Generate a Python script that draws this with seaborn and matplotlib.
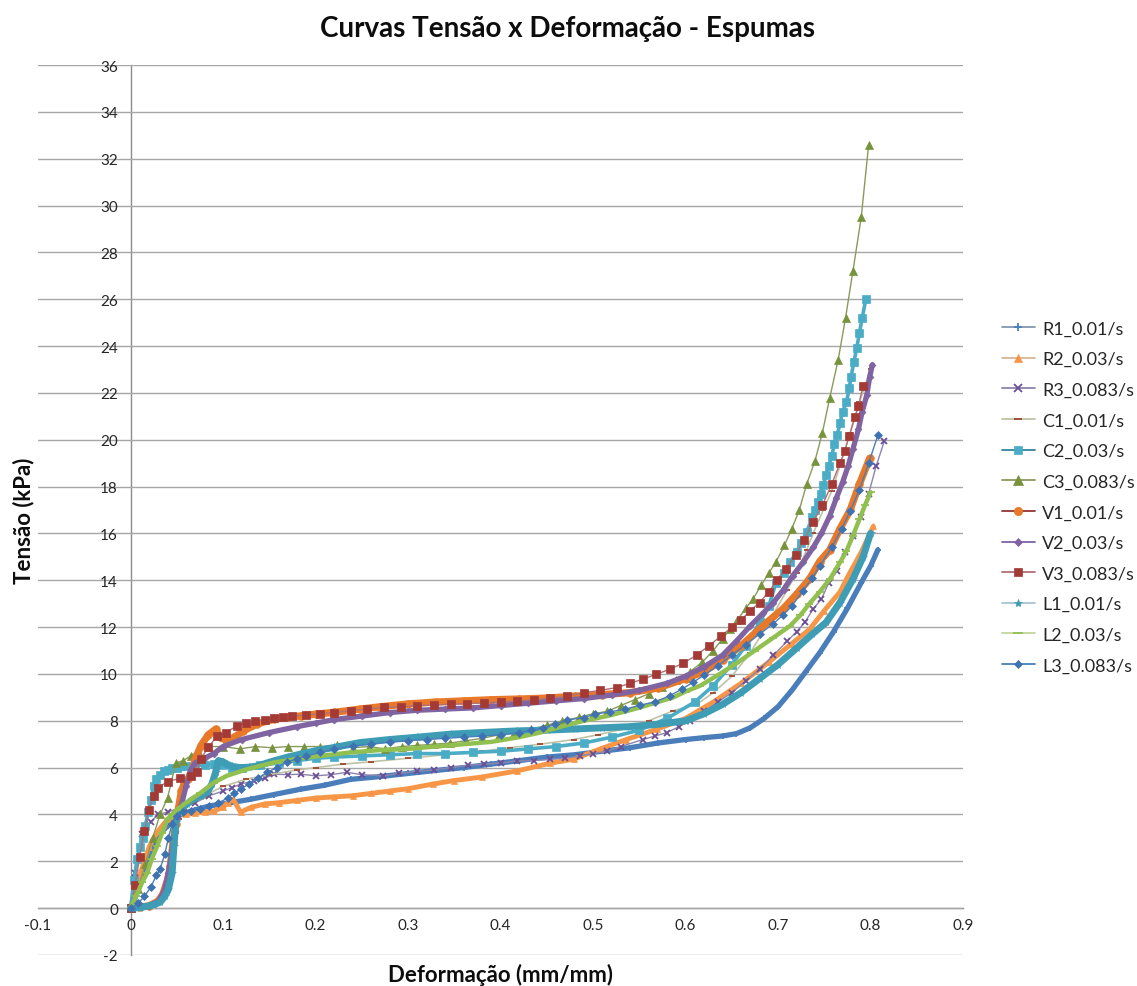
import numpy as np
import pandas as pd
import matplotlib
matplotlib.use("Agg")
import matplotlib.pyplot as plt
from matplotlib.lines import Line2D
import seaborn as sns

# ---- strain (mm/mm) and stress (kPa) for each foam test ----
r1_x = [0, 0.0036, 0.009, 0.0126, 0.018, 0.025, 0.032, 0.04, 0.047, 0.054, 0.07, 0.086, 0.1, 0.115, 0.13, 0.155,
        0.184, 0.21, 0.238, 0.27, 0.3, 0.33, 0.36, 0.39, 0.418, 0.45, 0.48, 0.51, 0.54, 0.57, 0.6, 0.62, 0.64,
        0.655, 0.67, 0.685, 0.7, 0.715, 0.73, 0.745, 0.76, 0.775, 0.79, 0.8, 0.808]
r1_y = [0, 0.24, 0.95, 1.5, 2.1, 2.66, 3.2, 3.5, 3.9, 4.0, 4.2, 4.37, 4.45, 4.55, 4.65, 4.85,
        5.08, 5.25, 5.5, 5.62, 5.75, 5.88, 6.0, 6.15, 6.29, 6.45, 6.55, 6.7, 6.85, 7.05, 7.2, 7.28, 7.35,
        7.45, 7.7, 8.1, 8.6, 9.3, 10.1, 10.9, 11.8, 12.8, 13.9, 14.6, 15.3]

r2_x = [0, 0.005, 0.01, 0.015, 0.02, 0.025, 0.03, 0.035, 0.04, 0.05, 0.06, 0.07, 0.08, 0.09, 0.1, 0.105,
        0.111, 0.119, 0.13, 0.145, 0.16, 0.18, 0.2, 0.22, 0.24, 0.26, 0.28, 0.3, 0.327, 0.35, 0.38, 0.418,
        0.454, 0.479, 0.508, 0.536, 0.569, 0.6, 0.63, 0.66, 0.69, 0.715, 0.734, 0.75, 0.767, 0.776, 0.79, 0.803]
r2_y = [0, 0.7, 1.4, 2.0, 2.6, 3.0, 3.3, 3.55, 3.8, 3.95, 4.0, 4.05, 4.1, 4.15, 4.3, 4.5,
        4.65, 4.1, 4.3, 4.45, 4.5, 4.6, 4.7, 4.75, 4.8, 4.9, 5.0, 5.1, 5.3, 5.45, 5.6, 5.86,
        6.19, 6.36, 6.8, 7.2, 7.64, 8.1, 8.8, 9.6, 10.5, 11.3, 11.9, 12.7, 13.5, 14.2, 15.2, 16.3]

r3_x = [0, 0.005, 0.0126, 0.022, 0.03, 0.04, 0.055, 0.07, 0.085, 0.1, 0.11, 0.119, 0.133, 0.145, 0.155, 0.17,
        0.184, 0.2, 0.217, 0.234, 0.25, 0.273, 0.29, 0.31, 0.328, 0.346, 0.365, 0.382, 0.4, 0.418, 0.436,
        0.454, 0.47, 0.486, 0.5, 0.515, 0.53, 0.554, 0.567, 0.58, 0.593, 0.605, 0.62, 0.635, 0.65, 0.665,
        0.68, 0.695, 0.71, 0.72, 0.729, 0.738, 0.747, 0.755, 0.764, 0.772, 0.781, 0.79, 0.798, 0.806, 0.815]
r3_y = [0, 1.5, 3.16, 3.7, 4.0, 4.1, 4.3, 4.5, 4.8, 5.0, 5.15, 5.3, 5.43, 5.55, 5.72, 5.7,
        5.72, 5.65, 5.7, 5.8, 5.7, 5.65, 5.75, 5.85, 5.9, 6.0, 6.1, 6.15, 6.2, 6.29, 6.3,
        6.35, 6.4, 6.5, 6.6, 6.7, 6.9, 7.2, 7.35, 7.5, 7.75, 8.0, 8.4, 8.8, 9.2, 9.7,
        10.2, 10.8, 11.4, 11.8, 12.2, 12.77, 13.2, 13.9, 14.4, 15.2, 15.9, 16.7, 17.7, 18.86, 19.95]

c1_x = [0, 0.01, 0.02, 0.03, 0.035, 0.04, 0.043, 0.046, 0.049, 0.052, 0.058, 0.066, 0.08, 0.1, 0.125, 0.15,
        0.18, 0.2, 0.23, 0.26, 0.3, 0.34, 0.38, 0.41, 0.443, 0.479, 0.505, 0.532, 0.56, 0.587, 0.612, 0.63,
        0.65, 0.67, 0.69, 0.71, 0.72, 0.731, 0.738, 0.749, 0.758, 0.768, 0.778, 0.788, 0.8]
c1_y = [0, 0.03, 0.1, 0.3, 0.6, 1.0, 1.6, 2.4, 3.2, 3.8, 4.2, 4.5, 4.8, 5.2, 5.5, 5.7,
        5.9, 6.0, 6.15, 6.25, 6.4, 6.55, 6.7, 6.85, 7.0, 7.2, 7.4, 7.64, 8.0, 8.43, 8.7, 9.2,
        9.9, 10.9, 12.2, 13.6, 14.3, 15.3, 16.0, 17.0, 17.8, 19.0, 20.3, 21.6, 23.0]

c2_x = [0, 0.004, 0.007, 0.01, 0.013, 0.016, 0.019, 0.022, 0.025, 0.028, 0.032, 0.036, 0.04, 0.045, 0.05,
        0.055, 0.06, 0.07, 0.08, 0.09, 0.1, 0.11, 0.12, 0.14, 0.16, 0.18, 0.2, 0.22, 0.25, 0.28, 0.31, 0.34,
        0.37, 0.4, 0.43, 0.46, 0.49, 0.52, 0.55, 0.58, 0.61, 0.63, 0.65, 0.665, 0.68, 0.69, 0.698, 0.706,
        0.713, 0.72, 0.725, 0.731, 0.737, 0.74, 0.743, 0.746, 0.749, 0.752, 0.755, 0.758, 0.761, 0.764,
        0.767, 0.77, 0.774, 0.777, 0.779, 0.782, 0.785, 0.788, 0.791, 0.795]
c2_y = [0, 1.2, 2.1, 2.6, 3.0, 3.5, 4.1, 4.6, 5.2, 5.5, 5.7, 5.85, 5.9, 6.0, 6.0,
        6.05, 6.05, 6.1, 6.1, 6.15, 6.1, 6.0, 6.0, 6.1, 6.2, 6.3, 6.4, 6.45, 6.5, 6.55, 6.6, 6.6,
        6.65, 6.7, 6.8, 6.9, 7.05, 7.3, 7.6, 8.1, 8.8, 9.5, 10.4, 11.2, 12.2, 12.9, 13.9, 14.3,
        14.76, 15.2, 15.6, 16.05, 16.7, 17.0, 17.35, 17.7, 18.06, 18.5, 18.9, 19.3, 19.8, 20.2,
        20.7, 21.2, 21.6, 22.2, 22.7, 23.3, 23.9, 24.55, 25.2, 26.0]

c3_x = [0, 0.008, 0.016, 0.024, 0.032, 0.04, 0.049, 0.057, 0.065, 0.073, 0.084, 0.1, 0.118, 0.135, 0.153,
        0.17, 0.188, 0.205, 0.223, 0.24, 0.258, 0.275, 0.293, 0.31, 0.328, 0.345, 0.363, 0.38, 0.398, 0.415,
        0.433, 0.45, 0.467, 0.485, 0.5, 0.515, 0.53, 0.545, 0.56, 0.575, 0.59, 0.605, 0.618, 0.63, 0.64,
        0.648, 0.656, 0.665, 0.673, 0.682, 0.69, 0.698, 0.707, 0.715, 0.723, 0.731, 0.74, 0.748, 0.756,
        0.765, 0.773, 0.781, 0.79, 0.798]
c3_y = [0, 0.8, 1.9, 3.0, 4.0, 4.7, 6.2, 6.3, 6.5, 6.7, 6.9, 6.9, 6.8, 6.9, 6.85,
        6.9, 6.9, 6.9, 6.95, 6.85, 6.9, 6.8, 6.9, 6.95, 7.0, 7.05, 7.15, 7.25, 7.4, 7.5,
        7.65, 7.8, 8.0, 8.15, 8.3, 8.4, 8.65, 8.9, 9.15, 9.45, 9.75, 10.1, 10.5, 11.0, 11.5,
        11.9, 12.3, 12.8, 13.2, 13.8, 14.3, 14.8, 15.5, 16.2, 17.0, 18.1, 19.1, 20.3, 21.8,
        23.4, 25.2, 27.2, 29.5, 32.6]

v1_x = [0, 0.01, 0.02, 0.03, 0.035, 0.04, 0.043, 0.046, 0.049, 0.052, 0.055, 0.058, 0.062, 0.067, 0.07,
        0.076, 0.084, 0.092, 0.097, 0.104, 0.112, 0.122, 0.137, 0.155, 0.17, 0.184, 0.2, 0.22, 0.248, 0.27,
        0.3, 0.33, 0.36, 0.39, 0.42, 0.45, 0.48, 0.51, 0.54, 0.57, 0.6, 0.62, 0.64, 0.66, 0.688, 0.706,
        0.72, 0.734, 0.745, 0.756, 0.767, 0.778, 0.788, 0.799]
v1_y = [0, 0.05, 0.1, 0.3, 0.6, 1.2, 1.8, 2.8, 3.6, 4.3, 5.0, 5.3, 5.5, 5.93, 6.36,
        6.93, 7.4, 7.64, 7.3, 7.14, 7.29, 7.57, 7.86, 8.07, 8.15, 8.21, 8.28, 8.36, 8.5, 8.6,
        8.72, 8.8, 8.85, 8.9, 8.93, 8.97, 9.05, 9.12, 9.2, 9.4, 9.8, 10.1, 10.6, 11.2, 12.2, 12.8,
        13.4, 14.05, 14.8, 15.3, 16.2, 17.0, 18.1, 19.2]

v2_x = [0, 0.02, 0.03, 0.036, 0.041, 0.045, 0.048, 0.05, 0.055, 0.06, 0.065, 0.07, 0.08, 0.09, 0.1, 0.12,
        0.15, 0.18, 0.2, 0.22, 0.25, 0.28, 0.31, 0.34, 0.37, 0.4, 0.43, 0.46, 0.49, 0.52, 0.55, 0.58, 0.6,
        0.62, 0.64, 0.655, 0.67, 0.684, 0.695, 0.706, 0.716, 0.727, 0.738, 0.747, 0.756, 0.763, 0.77,
        0.776, 0.781, 0.787, 0.791, 0.796, 0.799, 0.802]
v2_y = [0, 0.1, 0.3, 0.7, 1.5, 2.5, 3.3, 3.8, 4.4, 5.2, 5.9, 6.2, 6.4, 6.6, 6.9, 7.2,
        7.5, 7.75, 7.9, 8.05, 8.2, 8.35, 8.45, 8.5, 8.55, 8.65, 8.75, 8.85, 8.95, 9.1, 9.3, 9.6, 9.9,
        10.3, 10.8, 11.4, 12.05, 12.6, 13.05, 13.6, 14.2, 14.76, 15.4, 16.0, 16.75, 17.5, 18.2,
        18.9, 19.6, 20.45, 21.2, 21.9, 22.66, 23.2]

v3_x = [0, 0.005, 0.01, 0.015, 0.02, 0.025, 0.03, 0.04, 0.054, 0.065, 0.072, 0.076, 0.084, 0.094, 0.103,
        0.115, 0.125, 0.135, 0.145, 0.155, 0.165, 0.175, 0.19, 0.205, 0.22, 0.238, 0.256, 0.274, 0.292,
        0.31, 0.328, 0.346, 0.364, 0.382, 0.4, 0.418, 0.436, 0.454, 0.472, 0.49, 0.508, 0.526, 0.54, 0.554,
        0.568, 0.583, 0.597, 0.612, 0.625, 0.638, 0.65, 0.66, 0.67, 0.68, 0.69, 0.699, 0.709, 0.719,
        0.728, 0.738, 0.748, 0.758, 0.767, 0.772, 0.777, 0.783, 0.787, 0.792]
v3_y = [0, 1.0, 2.2, 3.3, 4.2, 4.8, 5.15, 5.4, 5.55, 5.65, 5.8, 6.36, 6.87, 7.36, 7.5,
        7.78, 7.9, 8.0, 8.05, 8.1, 8.15, 8.2, 8.25, 8.3, 8.35, 8.43, 8.5, 8.57, 8.6,
        8.65, 8.68, 8.7, 8.73, 8.77, 8.8, 8.85, 8.9, 8.97, 9.05, 9.2, 9.3, 9.42, 9.6, 9.78,
        9.98, 10.2, 10.45, 10.8, 11.2, 11.6, 12.0, 12.3, 12.7, 13.05, 13.5, 14.0, 14.5, 15.1,
        15.7, 16.5, 17.2, 18.1, 19.0, 19.5, 20.17, 20.95, 21.45, 22.3]

l1_x = [0, 0.01, 0.02, 0.025, 0.032, 0.037, 0.041, 0.045, 0.047, 0.049, 0.051, 0.054, 0.061, 0.068, 0.076,
        0.083, 0.088, 0.092, 0.095, 0.1, 0.104, 0.11, 0.119, 0.128, 0.137, 0.155, 0.17, 0.184, 0.2, 0.22,
        0.248, 0.28, 0.31, 0.346, 0.38, 0.418, 0.45, 0.48, 0.51, 0.54, 0.57, 0.6, 0.62, 0.64, 0.66, 0.68,
        0.7, 0.72, 0.737, 0.752, 0.767, 0.781, 0.792, 0.8]
l1_y = [0, 0.02, 0.1, 0.15, 0.25, 0.5, 0.8, 1.5, 2.66, 3.67, 4.1, 4.2, 4.45, 4.65, 4.8,
        4.94, 5.3, 5.8, 6.3, 6.25, 6.15, 6.05, 6.0, 6.02, 6.07, 6.29, 6.45, 6.58, 6.72, 6.86,
        7.07, 7.2, 7.3, 7.43, 7.5, 7.57, 7.6, 7.65, 7.7, 7.75, 7.85, 8.0, 8.3, 8.7, 9.2, 9.8,
        10.4, 11.1, 11.7, 12.2, 13.05, 14.05, 15.0, 16.0]

l2_x = [0, 0.006, 0.0126, 0.018, 0.023, 0.029, 0.034, 0.04, 0.045, 0.05, 0.06, 0.075, 0.09, 0.104, 0.126,
        0.155, 0.19, 0.238, 0.27, 0.3, 0.33, 0.36, 0.39, 0.42, 0.443, 0.47, 0.49, 0.515, 0.535, 0.551, 0.57,
        0.587, 0.6, 0.616, 0.635, 0.655, 0.675, 0.695, 0.713, 0.724, 0.734, 0.745, 0.756, 0.767, 0.774,
        0.781, 0.788, 0.794, 0.8]
l2_y = [0, 0.5, 1.1, 1.5, 2.1, 2.66, 3.2, 3.8, 4.0, 4.2, 4.5, 4.9, 5.36, 5.65, 5.93,
        6.22, 6.43, 6.65, 6.75, 6.8, 6.9, 7.0, 7.1, 7.3, 7.5, 7.8, 8.0, 8.2, 8.4, 8.57, 8.8,
        9.0, 9.25, 9.5, 9.95, 10.45, 11.0, 11.55, 12.05, 12.5, 13.0, 13.5, 14.05, 14.76, 15.25,
        15.9, 16.6, 17.2, 17.75]

l3_x = [0, 0.008, 0.015, 0.022, 0.028, 0.032, 0.037, 0.041, 0.045, 0.05, 0.057, 0.065, 0.075, 0.085, 0.095,
        0.105, 0.112, 0.119, 0.128, 0.138, 0.148, 0.158, 0.169, 0.18, 0.19, 0.205, 0.22, 0.241, 0.26, 0.28,
        0.3, 0.32, 0.34, 0.36, 0.38, 0.4, 0.42, 0.433, 0.446, 0.459, 0.472, 0.49, 0.502, 0.518, 0.535,
        0.551, 0.567, 0.583, 0.596, 0.608, 0.62, 0.635, 0.65, 0.665, 0.68, 0.695, 0.705, 0.715, 0.727,
        0.737, 0.745, 0.758, 0.769, 0.778, 0.788, 0.798, 0.808]
l3_y = [0, 0.2, 0.5, 0.9, 1.4, 1.67, 2.3, 3.0, 3.6, 3.95, 4.1, 4.15, 4.25, 4.35, 4.5,
        4.7, 4.9, 5.08, 5.3, 5.55, 5.8, 6.0, 6.23, 6.38, 6.5, 6.65, 6.8, 6.93, 7.0, 7.1,
        7.15, 7.2, 7.25, 7.3, 7.35, 7.4, 7.5, 7.6, 7.69, 7.86, 8.03, 8.14, 8.28, 8.38, 8.5,
        8.67, 8.8, 9.07, 9.35, 9.64, 9.95, 10.35, 10.8, 11.25, 11.7, 12.15, 12.5, 12.9, 13.55,
        14.1, 14.6, 15.4, 16.2, 16.96, 17.86, 19.0, 20.2]

series_names = ["R1_0.01/s", "R2_0.03/s", "R3_0.083/s", "C1_0.01/s", "C2_0.03/s", "C3_0.083/s",
                "V1_0.01/s", "V2_0.03/s", "V3_0.083/s", "L1_0.01/s", "L2_0.03/s", "L3_0.083/s"]
series_x = [r1_x, r2_x, r3_x, c1_x, c2_x, c3_x, v1_x, v2_x, v3_x, l1_x, l2_x, l3_x]
series_y = [r1_y, r2_y, r3_y, c1_y, c2_y, c3_y, v1_y, v2_y, v3_y, l1_y, l2_y, l3_y]

x_ticks = [-0.1, 0, 0.1, 0.2, 0.3, 0.4, 0.5, 0.6, 0.7, 0.8, 0.9]
x_tick_labels = ["-0.1", "0", "0.1", "0.2", "0.3", "0.4", "0.5", "0.6", "0.7", "0.8", "0.9"]
y_ticks = list(range(-2, 37, 2))
y_tick_labels = [str(v) for v in y_ticks]

# per series: line colour, marker, marker colour, marker size, plotted line width
styles = {
    "R1_0.01/s":  ("#8497B0", "+", "#4A7EBB", 5, 3.8),
    "R2_0.03/s":  ("#D8B596", "^", "#F79646", 5, 3.5),
    "R3_0.083/s": ("#8C84AE", "x", "#6A4F95", 5, 1.0),
    "C1_0.01/s":  ("#BFC3A6", "_", "#A0462E", 5, 1.2),
    "C2_0.03/s":  ("#31859C", "s", "#4BACC6", 5.5, 2.6),
    "C3_0.083/s": ("#8A9A5B", "^", "#77933C", 6, 1.0),
    "V1_0.01/s":  ("#943634", "o", "#E8792A", 5.5, 5.2),
    "V2_0.03/s":  ("#7E62A6", "D", "#8064A2", 3.5, 3.8),
    "V3_0.083/s": ("#B07078", "s", "#A33A36", 5.5, 1.0),
    "L1_0.01/s":  ("#A9C4D0", "*", "#3E9DB5", 5.5, 5.0),
    "L2_0.03/s":  ("#C3D69B", "_", "#92C050", 6, 3.2),
    "L3_0.083/s": ("#4A7EBB", "D", "#3F72B0", 4, 1.0),
}
# series drawn as thick bands use the marker colour for the line
band_series = {"R1_0.01/s", "R2_0.03/s", "V1_0.01/s", "V2_0.03/s", "L1_0.01/s", "L2_0.03/s", "C2_0.03/s"}

frames = []
for name, xs, ys in zip(series_names, series_x, series_y):
    frames.append(pd.DataFrame({"serie": name, "deformacao": xs, "tensao": ys}))
data = pd.concat(frames, ignore_index=True)

sns.set_style("white")
plt.rcParams["font.family"] = ["Lato", "DejaVu Sans"]
plt.rcParams["axes.unicode_minus"] = False

fig = plt.figure(figsize=(11.37, 9.87), dpi=100)
ax = fig.add_axes([38 / 1137, 1 - 956 / 987, (963 - 38) / 1137, (956 - 66) / 987])

handles = []
for name in series_names:
    lc, mk, mc, ms, lw = styles[name]
    sub = data[data["serie"] == name]
    color = mc if name in band_series else lc
    mew = 1.3 if mk in ("+", "x", "_") else 0.5
    sns.lineplot(data=sub, x="deformacao", y="tensao", sort=False, estimator=None, ax=ax,
                 color=color, linewidth=lw, marker=mk, markersize=ms,
                 markerfacecolor=mc, markeredgecolor=mc, markeredgewidth=mew, legend=False)
    handles.append(Line2D([0], [0], color=lc, lw=1.3, marker=mk, markersize=ms + 0.5,
                          markerfacecolor=mc, markeredgecolor=mc, markeredgewidth=mew, label=name))

ax.set_xlim(-0.1, 0.9)
ax.set_ylim(-2, 36)
ax.set_xticks(x_ticks)
ax.set_xticklabels(x_tick_labels)
ax.set_yticks(y_ticks)
ax.set_yticklabels(y_tick_labels)
ax.set_xlabel("")
ax.set_ylabel("")

for side in ("top", "right"):
    ax.spines[side].set_visible(False)
ax.spines["left"].set_position(("data", 0))
ax.spines["bottom"].set_position(("data", 0))
for side in ("left", "bottom"):
    ax.spines[side].set_color("#8C8C8C")
    ax.spines[side].set_linewidth(1.0)
    ax.spines[side].set_zorder(0.5)

ax.yaxis.grid(True, color="#A6A6A6", linewidth=1.0)
ax.xaxis.grid(False)
ax.set_axisbelow(True)
ax.tick_params(axis="both", which="major", direction="out", length=4, width=1,
               color="#8C8C8C", labelsize=11, labelcolor="#262626")
ax.tick_params(axis="y", pad=5)
ax.tick_params(axis="x", pad=3)

fig.text(567 / 1137, 1 - 29 / 987, "Curvas Tensão x Deformação - Espumas",
         ha="center", va="center", fontsize=20, fontweight="bold", color="#0D0D0D")
fig.text(500 / 1137, 1 - 975 / 987, "Deformação (mm/mm)",
         ha="center", va="center", fontsize=16, fontweight="bold", color="#0D0D0D")
fig.text(24 / 1137, 1 - 521 / 987, "Tensão (kPa)", rotation=90,
         ha="center", va="center", fontsize=16, fontweight="bold", color="#0D0D0D")

fig.legend(handles=handles, loc="center left", bbox_to_anchor=(995 / 1137, 1 - 498 / 987),
           frameon=False, fontsize=13, handlelength=1.8, handletextpad=0.4,
           labelspacing=0.81, borderaxespad=0)

fig.savefig("out.png", dpi=100, facecolor="white")
